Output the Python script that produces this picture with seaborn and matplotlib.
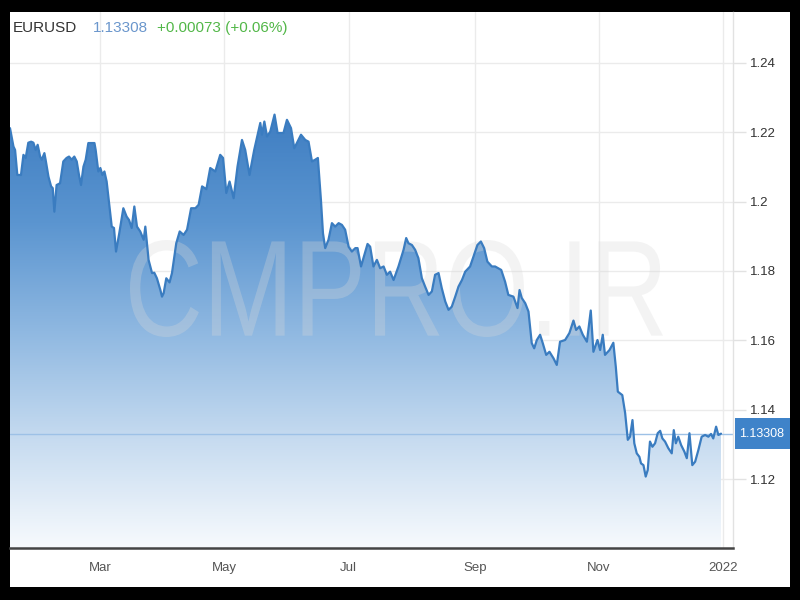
"""
EURUSD 一年走势图 (面积渐变 + 水印)
"""

import numpy as np
import pandas as pd
import matplotlib
matplotlib.use("Agg")
import matplotlib.pyplot as plt
import matplotlib.dates as mdates
import matplotlib.ticker as mticker
import seaborn as sns
from matplotlib.colors import LinearSegmentedColormap
from matplotlib.patches import PathPatch, Rectangle
from matplotlib.textpath import TextPath
from matplotlib.font_manager import FontProperties
from matplotlib.transforms import Affine2D, blended_transform_factory

# ---- 数据 ----
# 距 2021-01-01 的天数
day_offsets = [
    14.6, 16.3, 17.1, 18.2, 20.0, 21.2, 22.3, 23.6, 25.0, 26.1,
    27.2, 28.2, 29.4, 30.2, 31.5, 32.1, 33.5, 34.8, 35.6, 36.4,
    37.5, 39.2, 40.8, 42.4, 43.6, 44.9, 46.2, 47.4, 48.5, 49.5,
    50.7, 51.8, 53.1, 54.7, 56.1, 56.7, 58.0, 59.0, 60.0, 61.0,
    62.1, 63.4, 64.6, 65.7, 66.7, 68.3, 70.3, 71.9, 73.1, 74.4,
    75.7, 77.0, 78.6, 80.3, 81.1, 82.7, 84.4, 85.5, 86.8, 88.5,
    89.3, 90.1, 91.4, 93.0, 94.2, 96.3, 98.0, 99.9, 101.6, 103.6,
    105.7, 107.3, 109.0, 111.1, 113.0, 115.5, 117.9, 119.3, 120.9, 122.5,
    124.5, 126.4, 128.6, 130.2, 132.3, 134.6, 137.6, 138.4, 139.6, 140.9,
    142.5, 144.6, 146.1, 149.0, 150.7, 152.7, 154.3, 155.9, 157.6, 159.7,
    161.3, 163.0, 164.6, 165.9, 167.4, 168.4, 169.5, 171.1, 172.8, 174.4,
    176.1, 177.7, 179.3, 181.0, 182.6, 184.3, 185.4, 187.1, 188.7, 190.3,
    191.6, 193.2, 194.9, 196.5, 198.2, 199.8, 201.4, 203.1, 205.5, 208.0,
    209.3, 210.4, 212.1, 213.7, 215.3, 217.0, 218.6, 220.3, 221.9, 223.5,
    225.2, 226.8, 228.5, 230.1, 231.7, 233.4, 235.0, 236.7, 238.3, 240.7,
    242.4, 244.3, 246.0, 247.6, 249.2, 251.4, 253.0, 256.0, 257.9, 259.5,
    262.0, 264.0, 265.0, 266.1, 267.8, 269.4, 271.0, 272.2, 273.5, 275.1,
    276.4, 278.1, 279.7, 281.7, 283.3, 284.9, 287.4, 289.5, 291.5, 292.8,
    294.4, 296.1, 298.1, 300.0, 301.3, 303.3, 304.6, 305.9, 307.0, 309.2,
    311.1, 312.3, 313.3, 315.5, 316.9, 318.2, 319.3, 320.5, 321.4, 322.6,
    323.9, 324.7, 325.9, 327.0, 328.0, 329.1, 330.3, 331.6, 332.9, 334.1,
    335.2, 336.5, 338.1, 339.8, 340.8, 341.8, 343.0, 344.4, 346.0, 347.2,
    348.5, 349.9, 351.3, 352.9, 354.5, 356.2, 357.8, 359.1, 360.2, 361.6,
    362.7, 364.0,
]

prices = [
    1.2212, 1.2159, 1.2149, 1.2077, 1.2077, 1.2135, 1.2126, 1.2170, 1.2173, 1.2170,
    1.2149, 1.2164, 1.2130, 1.2121, 1.2140, 1.2121, 1.2072, 1.2044, 1.2039, 1.1971,
    1.2048, 1.2053, 1.2116, 1.2126, 1.2130, 1.2121, 1.2130, 1.2116, 1.2077, 1.2048,
    1.2101, 1.2121, 1.2169, 1.2169, 1.2169, 1.2149, 1.2087, 1.2097, 1.2077, 1.2087,
    1.2058, 1.1991, 1.1928, 1.1924, 1.1856, 1.1909, 1.1981, 1.1957, 1.1947, 1.1924,
    1.1986, 1.1928, 1.1914, 1.1890, 1.1928, 1.1832, 1.1794, 1.1795, 1.1779, 1.1745,
    1.1726, 1.1736, 1.1779, 1.1767, 1.1794, 1.1880, 1.1914, 1.1904, 1.1919, 1.1981,
    1.1981, 1.1991, 1.2044, 1.2036, 1.2097, 1.2087, 1.2135, 1.2126, 1.2025, 1.2058,
    1.2010, 1.2101, 1.2178, 1.2149, 1.2077, 1.2149, 1.2227, 1.2193, 1.2231, 1.2188,
    1.2202, 1.2251, 1.2198, 1.2198, 1.2236, 1.2212, 1.2154, 1.2173, 1.2193, 1.2178,
    1.2173, 1.2116, 1.2121, 1.2126, 1.2005, 1.1909, 1.1866, 1.1890, 1.1938, 1.1928,
    1.1938, 1.1933, 1.1919, 1.1870, 1.1856, 1.1866, 1.1866, 1.1813, 1.1846, 1.1878,
    1.1870, 1.1813, 1.1832, 1.1808, 1.1813, 1.1789, 1.1798, 1.1774, 1.1813, 1.1861,
    1.1895, 1.1880, 1.1875, 1.1861, 1.1837, 1.1779, 1.1755, 1.1731, 1.1741, 1.1789,
    1.1794, 1.1750, 1.1712, 1.1688, 1.1697, 1.1726, 1.1755, 1.1774, 1.1798, 1.1813,
    1.1842, 1.1875, 1.1885, 1.1866, 1.1827, 1.1813, 1.1813, 1.1803, 1.1769, 1.1731,
    1.1726, 1.1693, 1.1745, 1.1722, 1.1707, 1.1683, 1.1592, 1.1577, 1.1601, 1.1616,
    1.1592, 1.1558, 1.1567, 1.1548, 1.1529, 1.1596, 1.1601, 1.1621, 1.1657, 1.1630,
    1.1640, 1.1616, 1.1596, 1.1686, 1.1567, 1.1601, 1.1572, 1.1616, 1.1558, 1.1572,
    1.1593, 1.1524, 1.1452, 1.1442, 1.1390, 1.1313, 1.1322, 1.1370, 1.1303, 1.1274,
    1.1264, 1.1245, 1.1240, 1.1207, 1.1226, 1.1308, 1.1293, 1.1303, 1.1332, 1.1339,
    1.1317, 1.1308, 1.1289, 1.1274, 1.1341, 1.1303, 1.1322, 1.1298, 1.1279, 1.1260,
    1.1332, 1.1240, 1.1250, 1.1284, 1.1322, 1.1327, 1.1322, 1.1330, 1.1317, 1.1351,
    1.1327, 1.13308,
]

symbol = "EURUSD"
last_price = 1.13308
last_text = "1.13308"
change_text = "+0.00073 (+0.06%)"

tick_dates = ["2021-03-01", "2021-05-01", "2021-07-01", "2021-09-01", "2021-11-01", "2022-01-01"]
tick_labels = ["Mar", "May", "Jul", "Sep", "Nov", "2022"]
y_ticks = [1.12, 1.14, 1.16, 1.18, 1.2, 1.22, 1.24]

# ---- 样式 ----
sns.set_theme(style="white")
plt.rcParams["font.family"] = ["Liberation Sans", "DejaVu Sans"]

LINE_COLOR = "#3a7cc0"
GRID_COLOR = "#ebebeb"

base = pd.Timestamp("2021-01-01")
df = pd.DataFrame({
    "date": base + pd.to_timedelta(day_offsets, unit="D"),
    "price": prices,
})

fig = plt.figure(figsize=(8, 6), dpi=100, facecolor="black")
# 白色画布 (四周留黑边), 放在坐标轴下面
fig.patches.append(Rectangle((10 / 800, 13 / 600), 780 / 800, 575 / 600,
                             transform=fig.transFigure, facecolor="white",
                             edgecolor="none", zorder=-10))

ax = fig.add_axes([10 / 800, 52 / 600, 723 / 800, 536 / 600])
ax.set_facecolor("white")

x_left = df["date"].iloc[0]
x_right = base + pd.Timedelta(days=369.9)
y_low, y_high = 1.1001, 1.2547

# 折线
sns.lineplot(data=df, x="date", y="price", ax=ax, color=LINE_COLOR,
             linewidth=1.6, zorder=4)

# 渐变填充: 用填充多边形裁剪一张竖向渐变图
poly = ax.fill_between(df["date"], df["price"], y_low, facecolor="none",
                       edgecolor="none")
cmap = LinearSegmentedColormap.from_list(
    "blue_fade", ["#f7fafd", "#c6dbf0", "#8fb8e1", "#5b95d0", "#3f7ec2"])
grad = np.linspace(0, 1, 256).reshape(-1, 1)
x0, x1 = mdates.date2num(x_left), mdates.date2num(df["date"].iloc[-1])
im = ax.imshow(grad, extent=[x0, x1, y_low, max(prices)], origin="lower",
               aspect="auto", cmap=cmap, zorder=1)
im.set_clip_path(poly.get_paths()[0], transform=ax.transData)

# 水印 CMPRO.IR (像素坐标, 横向压缩)
tp = TextPath((0, 0), "CMPRO.IR", size=100,
              prop=FontProperties(family="Liberation Sans"))
bb = tp.get_extents()
trf = (Affine2D().translate(-bb.x0, -bb.y0)
       .scale(533 / bb.width, 97 / bb.height).translate(130, 263))
wm = PathPatch(tp, transform=trf, facecolor="#d9d9d9", edgecolor="none",
               alpha=0.3, zorder=3)
ax.add_artist(wm)

# 当前价水平线 + 右侧标签
ax.axhline(last_price, color="#9dc1e6", linewidth=1.0, zorder=2)
bt = blended_transform_factory(ax.transAxes, ax.transData)
ax.add_patch(Rectangle((1.0028, last_price - 0.0044), 0.0761, 0.0088,
                       transform=bt, facecolor="#3f83c9", edgecolor="none",
                       clip_on=False, zorder=5))
ax.text(1.0395, last_price, last_text, transform=bt, color="white",
        fontsize=9, ha="center", va="center", clip_on=False, zorder=6)

# 坐标轴
ax.set_xlim(x_left, x_right)
ax.set_ylim(y_low, y_high)
ax.set_xticks(pd.to_datetime(tick_dates))
ax.set_xticklabels(tick_labels)
ax.set_yticks(y_ticks)
ax.yaxis.set_major_formatter(mticker.FuncFormatter(lambda v, _: f"{v:g}"))
ax.yaxis.tick_right()
ax.set_xlabel("")
ax.set_ylabel("")

ax.grid(True, color=GRID_COLOR, linewidth=1.0, zorder=0)
ax.set_axisbelow(True)
ax.tick_params(axis="y", which="both", right=True, left=False, length=9,
               width=1, color="#e2e2e2", pad=3, labelsize=9.5,
               labelcolor="#333333")
ax.tick_params(axis="x", length=0, pad=10, labelsize=9.5, labelcolor="#555555")

for side in ["top", "left"]:
    ax.spines[side].set_visible(False)
ax.spines["right"].set_color("#e2e2e2")
ax.spines["right"].set_linewidth(1.0)
ax.spines["bottom"].set_color("#444444")
ax.spines["bottom"].set_linewidth(1.8)

# 顶部标题行
fig.text(13 / 800, 1 - 28 / 600, symbol, color="#333333", fontsize=11, va="center")
fig.text(93 / 800, 1 - 28 / 600, last_text, color="#6a96cc", fontsize=11, va="center")
fig.text(157 / 800, 1 - 28 / 600, change_text, color="#52b748", fontsize=11, va="center")

fig.savefig("out.png", dpi=100, facecolor="black")
